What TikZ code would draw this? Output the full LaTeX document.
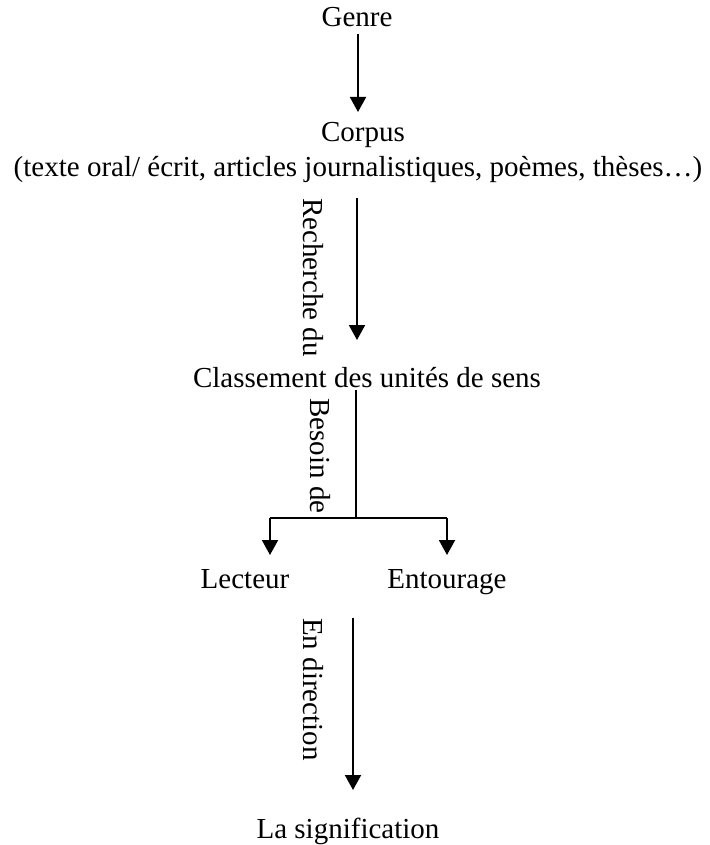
\documentclass[tikz,border=0pt]{standalone}
\usepackage{fontspec}
\setmainfont{Liberation Serif}
\usetikzlibrary{arrows.meta}
\begin{document}
\begin{tikzpicture}[x=1pt,y=-1pt,
  lbl/.style={inner sep=0pt,anchor=base,font=\fontsize{29}{34}\selectfont},
  vlbl/.style={inner sep=0pt,anchor=west,rotate=-90,font=\fontsize{29}{34}\selectfont},
  arr/.style={line width=2pt,-{Triangle[width=16pt,length=15pt]}},
  ln/.style={line width=2pt}]
\useasboundingbox (0,0) rectangle (709,845);
\node[lbl] (genre) at (357,27) {Genre};
\node[lbl] (corpus) at (363,142) {Corpus};
\node[lbl] (corpus2) at (358,176) {(texte oral/ écrit, articles journalistiques, poèmes, thèses…)};
\node[lbl] (class) at (367,387) {Classement des unités de sens};
\node[lbl] (lect) at (245,588) {Lecteur};
\node[lbl] (ent) at (447,588) {Entourage};
\node[lbl] (sign) at (348,838) {La signification};
\node[vlbl] (rech) at (313,198) {Recherche du};
\node[vlbl] (bes) at (320,398) {Besoin de};
\node[vlbl] (dir) at (313,618) {En direction};
\coordinate (a1s) at (358,34);
\coordinate (a1e) at (358,112);
\coordinate (a2s) at (357,198);
\coordinate (a2e) at (357,340);
\coordinate (bs) at (356,390);
\coordinate (bj) at (356,518);
\coordinate (bl) at (270,518);
\coordinate (br) at (447,518);
\coordinate (ble) at (270,555);
\coordinate (bre) at (447,555);
\coordinate (a3s) at (353,618);
\coordinate (a3e) at (353,790);
\draw[arr] (a1s) -- (a1e);
\draw[arr] (a2s) -- (a2e);
\draw[ln] (bs) -- (bj);
\draw[ln] (bl) -- (br);
\draw[arr] (bl) -- (ble);
\draw[arr] (br) -- (bre);
\draw[arr] (a3s) -- (a3e);
\end{tikzpicture}
\end{document}
